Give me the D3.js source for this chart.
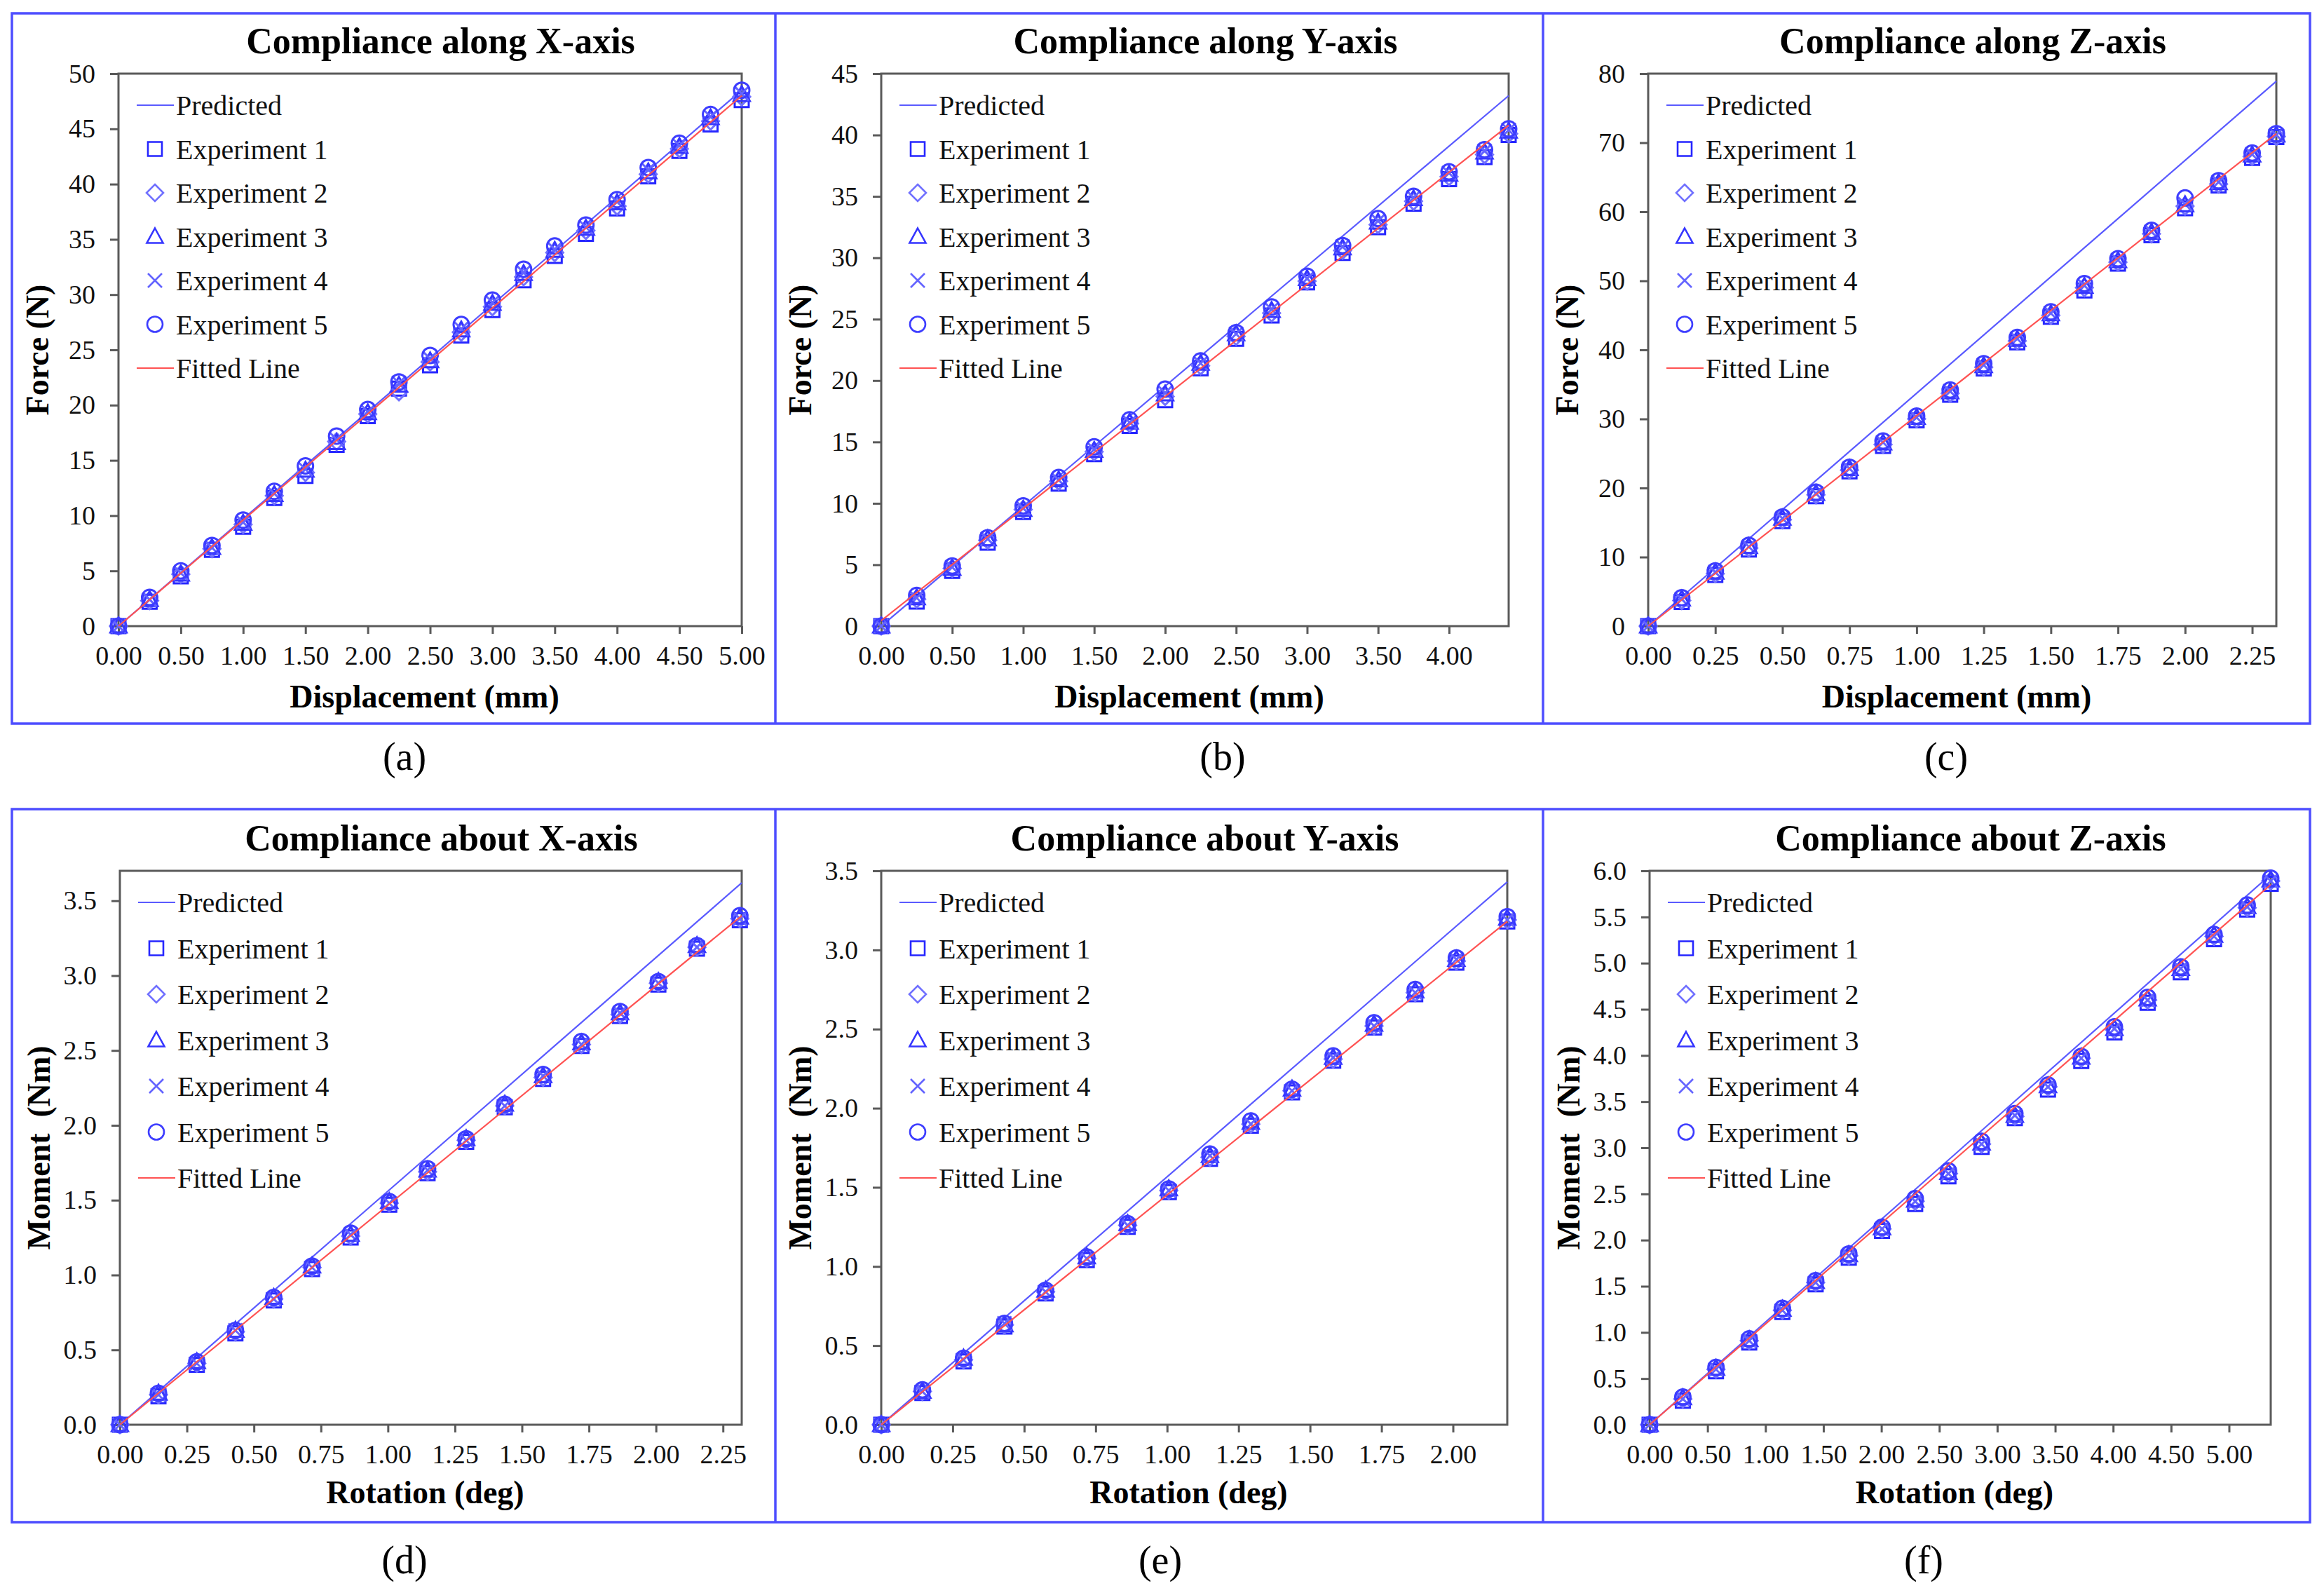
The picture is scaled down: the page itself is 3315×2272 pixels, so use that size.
<!DOCTYPE html>
<html>
<head>
<meta charset="utf-8">
<script src="https://cdn.jsdelivr.net/npm/d3@7"></script>
<style>
  body { margin: 0; background: #fff; }
  svg text { font-family: "Liberation Serif", "Times New Roman", serif; }
</style>
</head>
<body>
<script>
// ---- data ----
const expNames = ["Experiment 1", "Experiment 2", "Experiment 3", "Experiment 4", "Experiment 5"];

// (a) along X
const xA = [0, 0.25, 0.5, 0.75, 1.0, 1.25, 1.5, 1.75, 2.0, 2.25, 2.5, 2.75, 3.0, 3.25, 3.5, 3.75, 4.0, 4.25, 4.5, 4.75, 5.0];
const a1 = [0, 2.2, 4.5, 6.9, 9.0, 11.6, 13.6, 16.4, 19.0, 21.5, 23.6, 26.3, 28.6, 31.3, 33.5, 35.5, 37.8, 40.7, 43.0, 45.4, 47.6];
const a2 = [0, 2.3, 4.7, 7.0, 9.2, 11.8, 13.9, 16.7, 19.2, 21.2, 23.9, 26.6, 28.9, 31.6, 33.8, 35.8, 38.0, 40.9, 43.2, 45.7, 47.9];
const a3 = [0, 2.4, 4.7, 7.1, 9.3, 11.9, 14.1, 16.6, 19.3, 21.8, 24.0, 26.8, 29.2, 31.9, 34.0, 36.0, 38.3, 41.1, 43.4, 46.0, 48.1];
const a4 = [0, 2.4, 4.8, 7.1, 9.4, 12.0, 14.2, 16.9, 19.4, 22.0, 24.2, 26.9, 29.3, 32.0, 34.1, 36.1, 38.4, 41.3, 43.5, 46.1, 48.2];
const a5 = [0, 2.6, 5.0, 7.3, 9.6, 12.2, 14.5, 17.2, 19.6, 22.1, 24.5, 27.3, 29.5, 32.3, 34.4, 36.3, 38.6, 41.5, 43.7, 46.3, 48.5];
const predA = [0, 48.5], fitA = [0, 48.0];

// (b) along Y
const xB = [0, 0.25, 0.5, 0.75, 1.0, 1.25, 1.5, 1.75, 2.0, 2.25, 2.5, 2.75, 3.0, 3.25, 3.5, 3.75, 4.0, 4.25, 4.42];
const b1 = [0, 2.0, 4.5, 6.8, 9.3, 11.6, 14.0, 16.3, 18.4, 21.0, 23.4, 25.3, 28.0, 30.4, 32.5, 34.4, 36.4, 38.2, 40.0];
const b2 = [0, 2.2, 4.7, 7.0, 9.5, 11.8, 14.2, 16.5, 18.7, 21.2, 23.6, 25.5, 28.1, 30.6, 32.7, 34.6, 36.6, 38.4, 40.1];
const b3 = [0, 2.3, 4.7, 7.1, 9.5, 11.9, 14.3, 16.6, 18.9, 21.4, 23.8, 25.7, 28.3, 30.8, 32.9, 34.8, 36.8, 38.6, 40.3];
const b4 = [0, 2.3, 4.8, 7.1, 9.6, 11.9, 14.4, 16.6, 19.0, 21.4, 23.8, 25.8, 28.3, 30.9, 33.0, 34.9, 36.9, 38.7, 40.4];
const b5 = [0, 2.5, 4.9, 7.2, 9.8, 12.1, 14.6, 16.8, 19.3, 21.6, 23.9, 26.0, 28.5, 31.0, 33.2, 35.0, 37.0, 38.8, 40.5];
const predB = [0, 43.2], fitB = [0.45, 40.8];

// (c) along Z
const xC = [0, 0.125, 0.25, 0.375, 0.5, 0.625, 0.75, 0.875, 1.0, 1.125, 1.25, 1.375, 1.5, 1.625, 1.75, 1.875, 2.0, 2.125, 2.25, 2.34];
const c1 = [0, 3.5, 7.4, 11.1, 15.2, 18.8, 22.4, 26.1, 29.8, 33.5, 37.3, 41.1, 44.8, 48.6, 52.5, 56.6, 60.5, 63.8, 67.8, 70.8];
const c2 = [0, 3.7, 7.6, 11.3, 15.4, 19.0, 22.6, 26.3, 30.0, 33.7, 37.5, 41.3, 45.0, 49.0, 52.7, 56.8, 60.8, 64.0, 68.0, 70.9];
const c3 = [0, 3.9, 7.8, 11.5, 15.6, 19.2, 22.8, 26.5, 30.2, 33.9, 37.7, 41.5, 45.2, 49.2, 52.9, 57.0, 61.0, 64.2, 68.2, 71.1];
const c4 = [0, 3.9, 7.8, 11.5, 15.6, 19.2, 22.8, 26.6, 30.2, 34.0, 37.8, 41.6, 45.3, 49.3, 53.0, 57.1, 61.1, 64.3, 68.3, 71.1];
const c5 = [0, 4.1, 8.0, 11.7, 15.8, 19.4, 23.0, 26.8, 30.4, 34.2, 38.0, 41.8, 45.5, 49.6, 53.2, 57.3, 62.0, 64.5, 68.5, 71.3];
const predC = [0, 78.9], fitC = [0, 71.3];

// (d) about X
const xD = [0, 0.144, 0.287, 0.431, 0.574, 0.717, 0.861, 1.005, 1.148, 1.292, 1.436, 1.579, 1.722, 1.866, 2.009, 2.153, 2.313];
const d1 = [0, 0.19, 0.40, 0.61, 0.83, 1.04, 1.25, 1.47, 1.68, 1.89, 2.12, 2.31, 2.53, 2.73, 2.94, 3.18, 3.37];
const d2 = [0, 0.20, 0.41, 0.62, 0.84, 1.05, 1.26, 1.48, 1.69, 1.90, 2.13, 2.32, 2.54, 2.74, 2.95, 3.19, 3.38];
const d3v = [0, 0.21, 0.42, 0.63, 0.85, 1.06, 1.27, 1.49, 1.70, 1.91, 2.14, 2.33, 2.55, 2.75, 2.96, 3.20, 3.39];
const d4 = [0, 0.20, 0.41, 0.63, 0.84, 1.05, 1.27, 1.48, 1.70, 1.90, 2.13, 2.33, 2.54, 2.75, 2.95, 3.19, 3.38];
const d5 = [0, 0.21, 0.42, 0.63, 0.85, 1.06, 1.28, 1.49, 1.71, 1.91, 2.14, 2.34, 2.56, 2.76, 2.96, 3.20, 3.40];
const predD = [0, 3.62], fitD = [0, 3.40];

// (e) about Y
const xE = [0, 0.144, 0.288, 0.431, 0.575, 0.719, 0.862, 1.006, 1.150, 1.293, 1.437, 1.581, 1.724, 1.868, 2.012, 2.19];
const e1 = [0, 0.20, 0.40, 0.62, 0.83, 1.04, 1.25, 1.47, 1.68, 1.89, 2.10, 2.30, 2.51, 2.72, 2.92, 3.18];
const e2 = [0, 0.21, 0.41, 0.63, 0.84, 1.05, 1.26, 1.48, 1.69, 1.90, 2.11, 2.31, 2.52, 2.73, 2.93, 3.19];
const e3 = [0, 0.21, 0.42, 0.63, 0.85, 1.06, 1.27, 1.49, 1.70, 1.91, 2.12, 2.32, 2.53, 2.74, 2.94, 3.20];
const e4 = [0, 0.21, 0.41, 0.64, 0.84, 1.05, 1.26, 1.48, 1.70, 1.90, 2.11, 2.32, 2.52, 2.73, 2.94, 3.19];
const e5 = [0, 0.22, 0.42, 0.64, 0.85, 1.06, 1.27, 1.49, 1.71, 1.92, 2.12, 2.33, 2.54, 2.75, 2.95, 3.21];
const predE = [0, 3.43], fitE = [0, 3.18];

// (f) about Z
const xF = [0, 0.287, 0.573, 0.860, 1.146, 1.433, 1.719, 2.006, 2.292, 2.579, 2.865, 3.152, 3.438, 3.725, 4.011, 4.298, 4.584, 4.871, 5.157, 5.36];
const f1 = [0, 0.26, 0.58, 0.89, 1.22, 1.52, 1.81, 2.10, 2.39, 2.69, 3.01, 3.32, 3.63, 3.94, 4.25, 4.57, 4.90, 5.26, 5.58, 5.86];
const f2 = [0, 0.28, 0.60, 0.91, 1.24, 1.54, 1.83, 2.12, 2.42, 2.72, 3.04, 3.34, 3.66, 3.97, 4.28, 4.60, 4.93, 5.29, 5.60, 5.89];
const f3 = [0, 0.29, 0.61, 0.92, 1.25, 1.55, 1.84, 2.13, 2.43, 2.73, 3.05, 3.35, 3.67, 3.98, 4.29, 4.61, 4.94, 5.30, 5.61, 5.90];
const f4 = [0, 0.28, 0.60, 0.91, 1.24, 1.54, 1.83, 2.12, 2.42, 2.72, 3.04, 3.35, 3.66, 3.97, 4.29, 4.60, 4.94, 5.29, 5.61, 5.89];
const f5 = [0, 0.30, 0.62, 0.93, 1.26, 1.56, 1.85, 2.14, 2.45, 2.75, 3.07, 3.37, 3.68, 3.99, 4.31, 4.63, 4.96, 5.31, 5.63, 5.92];
const predF = [0, 5.96], fitF = [0, 5.85];

// tick labels
const ticksXA = [0, 0.5, 1, 1.5, 2, 2.5, 3, 3.5, 4, 4.5, 5];
const ticksYA = [0, 5, 10, 15, 20, 25, 30, 35, 40, 45, 50];
const ticksXB = [0, 0.5, 1, 1.5, 2, 2.5, 3, 3.5, 4];
const ticksYB = [0, 5, 10, 15, 20, 25, 30, 35, 40, 45];
const ticksXC = [0, 0.25, 0.5, 0.75, 1, 1.25, 1.5, 1.75, 2, 2.25];
const ticksYC = [0, 10, 20, 30, 40, 50, 60, 70, 80];
const ticksXD = [0, 0.25, 0.5, 0.75, 1, 1.25, 1.5, 1.75, 2, 2.25];
const ticksYD = [0, 0.5, 1, 1.5, 2, 2.5, 3, 3.5];
const ticksXE = [0, 0.25, 0.5, 0.75, 1, 1.25, 1.5, 1.75, 2];
const ticksYE = [0, 0.5, 1, 1.5, 2, 2.5, 3, 3.5];
const ticksXF = [0, 0.5, 1, 1.5, 2, 2.5, 3, 3.5, 4, 4.5, 5];
const ticksYF = [0, 0.5, 1, 1.5, 2, 2.5, 3, 3.5, 4, 4.5, 5, 5.5, 6];

// ---- layout ----
const W = 3315, H = 2272;
const panels = [
  { tag: "(a)", title: "Compliance along X-axis", xl: "Displacement (mm)", yl: "Force (N)",
    x: xA, ys: [a1, a2, a3, a4, a5], pred: predA, fit: fitA, xd: [0, 5], yd: [0, 50],
    tx: ticksXA, ty: ticksYA, fy: "d", L: 169, R: 1058, T: 105, B: 893, tagX: 577 },
  { tag: "(b)", title: "Compliance along Y-axis", xl: "Displacement (mm)", yl: "Force (N)",
    x: xB, ys: [b1, b2, b3, b4, b5], pred: predB, fit: fitB, xd: [0, 4.42], yd: [0, 45],
    tx: ticksXB, ty: ticksYB, fy: "d", L: 1257, R: 2152, T: 105, B: 893, tagX: 1744 },
  { tag: "(c)", title: "Compliance along Z-axis", xl: "Displacement (mm)", yl: "Force (N)",
    x: xC, ys: [c1, c2, c3, c4, c5], pred: predC, fit: fitC, xd: [0, 2.34], yd: [0, 80],
    tx: ticksXC, ty: ticksYC, fy: "d", L: 2351, R: 3247, T: 105, B: 893, tagX: 2776 },
  { tag: "(d)", title: "Compliance about X-axis", xl: "Rotation (deg)", yl: "Moment  (Nm)",
    x: xD, ys: [d1, d2, d3v, d4, d5], pred: predD, fit: fitD, xd: [0, 2.32], yd: [0, 3.7],
    tx: ticksXD, ty: ticksYD, fy: ".1f", L: 171, R: 1058, T: 1242, B: 2032, tagX: 577 },
  { tag: "(e)", title: "Compliance about Y-axis", xl: "Rotation (deg)", yl: "Moment  (Nm)",
    x: xE, ys: [e1, e2, e3, e4, e5], pred: predE, fit: fitE, xd: [0, 2.19], yd: [0, 3.5],
    tx: ticksXE, ty: ticksYE, fy: ".1f", L: 1257, R: 2150, T: 1242, B: 2032, tagX: 1655 },
  { tag: "(f)", title: "Compliance about Z-axis", xl: "Rotation (deg)", yl: "Moment  (Nm)",
    x: xF, ys: [f1, f2, f3, f4, f5], pred: predF, fit: fitF, xd: [0, 5.36], yd: [0, 6],
    tx: ticksXF, ty: ticksYF, fy: ".1f", L: 2353, R: 3239, T: 1242, B: 2032, tagX: 2744 }
];

const boxColor = "#4d4dff";
const frameColor = "#5a5a5a";
const predColor = "#5a5aff";
const fitColor = "#ff5252";
const markers = [
  { shape: "square",   color: "#2626ff" },
  { shape: "diamond",  color: "#7070ff" },
  { shape: "triangle", color: "#3535ff" },
  { shape: "cross",    color: "#6464ff" },
  { shape: "circle",   color: "#3d3dff" }
];

function markerPath(shape) {
  if (shape === "square") return "M-10,-10H10V10H-10Z";
  if (shape === "diamond") return "M0,-12L12,0L0,12L-12,0Z";
  if (shape === "triangle") return "M0,-12L11.5,9L-11.5,9Z";
  if (shape === "cross") return "M-10,-10L10,10M10,-10L-10,10";
  return "M11,0A11,11 0 1,1 -11,0A11,11 0 1,1 11,0Z";
}

const svg = d3.select("body").append("svg")
  .attr("width", W)
  .attr("height", H);

svg.append("rect").attr("width", W).attr("height", H).attr("fill", "#fff");

// outer blue boxes around the two rows
[[19, 1032], [1154, 2171]].forEach(([y0, y1]) => {
  svg.append("rect")
    .attr("x", 17).attr("y", y0)
    .attr("width", 3295 - 17).attr("height", y1 - y0)
    .attr("fill", "none").attr("stroke", boxColor).attr("stroke-width", 3.5);
  [1106, 2201].forEach(xv => {
    svg.append("line")
      .attr("x1", xv).attr("x2", xv).attr("y1", y0).attr("y2", y1)
      .attr("stroke", boxColor).attr("stroke-width", 3.5);
  });
});

panels.forEach((p, pi) => {
  const g = svg.append("g");
  const x = d3.scaleLinear().domain(p.xd).range([p.L, p.R]);
  const y = d3.scaleLinear().domain(p.yd).range([p.B, p.T]);

  // axes
  const xAxis = g.append("g")
    .attr("transform", `translate(0,${p.B})`)
    .call(d3.axisBottom(x).tickValues(p.tx).tickFormat(d3.format(".2f"))
      .tickSize(11).tickSizeOuter(0).tickPadding(17));
  const yAxis = g.append("g")
    .attr("transform", `translate(${p.L},0)`)
    .call(d3.axisLeft(y).tickValues(p.ty).tickFormat(d3.format(p.fy))
      .tickSize(12).tickSizeOuter(0).tickPadding(21));
  [xAxis, yAxis].forEach(ax => {
    ax.attr("font-size", 38).attr("font-family", "Liberation Serif, serif");
    ax.select(".domain").remove();
    ax.selectAll(".tick line").attr("stroke", frameColor).attr("stroke-width", 3);
    ax.selectAll(".tick text").attr("fill", "#111");
  });

  // plot frame
  g.append("rect")
    .attr("x", p.L).attr("y", p.T)
    .attr("width", p.R - p.L).attr("height", p.B - p.T)
    .attr("fill", "none").attr("stroke", frameColor).attr("stroke-width", 3);

  // predicted line
  g.append("line")
    .attr("x1", x(p.xd[0])).attr("y1", y(p.pred[0]))
    .attr("x2", x(p.xd[1])).attr("y2", y(p.pred[1]))
    .attr("stroke", predColor).attr("stroke-width", 2.2);

  // experiments
  p.ys.forEach((vals, k) => {
    const m = markers[k];
    g.append("g").selectAll("path")
      .data(vals.map((v, i) => [p.x[i], v]))
      .enter().append("path")
      .attr("d", markerPath(m.shape))
      .attr("transform", d => `translate(${x(d[0])},${y(d[1])})`)
      .attr("fill", "none")
      .attr("stroke", m.color)
      .attr("stroke-width", 3);
  });

  // fitted line
  g.append("line")
    .attr("x1", x(p.xd[0])).attr("y1", y(p.fit[0]))
    .attr("x2", x(p.xd[1])).attr("y2", y(p.fit[1]))
    .attr("stroke", fitColor).attr("stroke-width", 2.2);

  // legend
  const rowH = pi < 3 ? 62.5 : 65.5;
  const leg = g.append("g").attr("transform", `translate(${p.L},${p.T + 45})`);
  const rows = ["Predicted"].concat(expNames).concat(["Fitted Line"]);
  rows.forEach((name, r) => {
    const yy = r * rowH;
    if (r === 0 || r === rows.length - 1) {
      leg.append("line")
        .attr("x1", 26).attr("x2", 79).attr("y1", yy).attr("y2", yy)
        .attr("stroke", r === 0 ? predColor : fitColor).attr("stroke-width", 2.2);
    } else {
      const m = markers[r - 1];
      leg.append("path")
        .attr("d", markerPath(m.shape))
        .attr("transform", `translate(52,${yy})`)
        .attr("fill", "none").attr("stroke", m.color).attr("stroke-width", 2.6);
    }
    leg.append("text")
      .attr("x", 82).attr("y", yy + 14)
      .attr("font-size", 40).attr("fill", "#111")
      .text(name);
  });

  // titles
  g.append("text")
    .attr("x", (p.L + p.R) / 2 + 15).attr("y", p.T - 29)
    .attr("text-anchor", "middle")
    .attr("font-size", 52).attr("font-weight", "bold")
    .text(p.title);
  g.append("text")
    .attr("x", (p.L + p.R) / 2 - 8).attr("y", p.B + (pi < 3 ? 116 : 112))
    .attr("text-anchor", "middle")
    .attr("font-size", 46).attr("font-weight", "bold")
    .text(p.xl);
  g.append("text")
    .attr("transform", `translate(${p.L - 100},${(p.T + p.B) / 2}) rotate(-90)`)
    .attr("text-anchor", "middle")
    .attr("font-size", 46).attr("font-weight", "bold")
    .style("white-space", "pre")
    .text(p.yl);

  // sub-figure tag
  g.append("text")
    .attr("x", p.tagX).attr("y", pi < 3 ? 1098 : 2244)
    .attr("text-anchor", "middle")
    .attr("font-size", 56)
    .text(p.tag);
});
</script>
</body>
</html>
